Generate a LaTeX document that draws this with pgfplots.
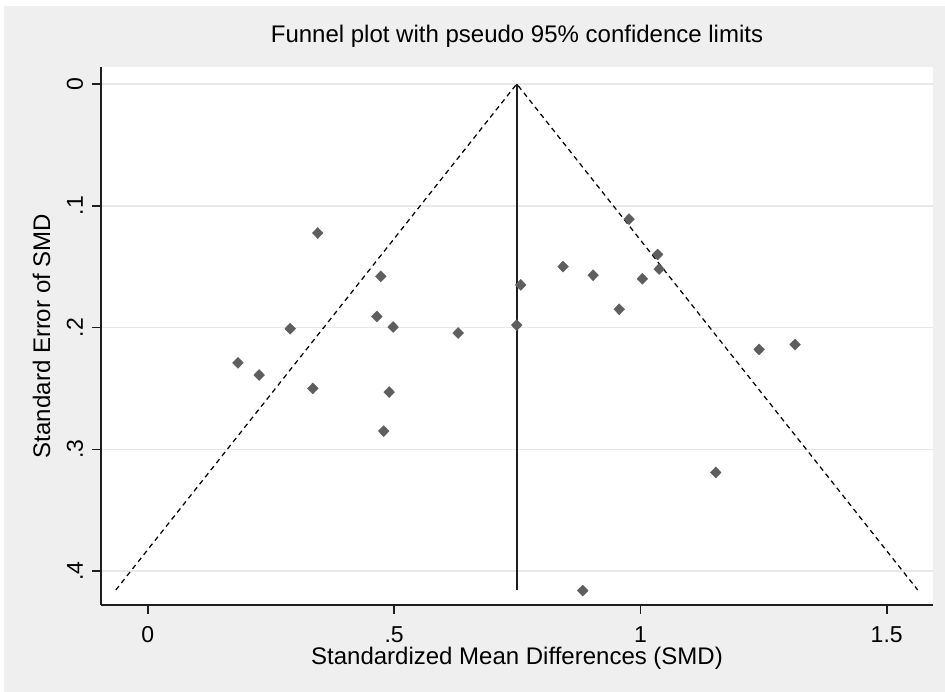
\documentclass[border=0pt]{standalone}
\usepackage{fontspec}
\setmainfont{Liberation Sans}
\usepackage{pgfplots}
\pgfplotsset{compat=1.18}
\definecolor{bg}{HTML}{EFEFEF}
\definecolor{mk}{HTML}{5E5E5E}
\definecolor{gridc}{HTML}{E8E8E8}
\definecolor{axc}{HTML}{1E1E1E}
\begin{document}
\begin{tikzpicture}[x=1pt,y=1pt]
\useasboundingbox (0,0) rectangle (945,692);
\fill[white] (0,0) rectangle (945,692);
\fill[bg] (4,0) rectangle (945,686);
\begin{axis}[
  at={(101pt,87pt)}, anchor=south west, scale only axis,
  width=832pt, height=538pt,
  xmin=-0.095, xmax=1.594, ymin=-0.4278, ymax=0.0139,
  axis x line*=bottom, axis y line*=left,
  axis line style={line width=1.6pt, axc},
  xtick={0,0.5,1,1.5}, xticklabels={0,.5,1,1.5},
  ytick={-0.4,-0.3,-0.2,-0.1,0}, yticklabels={.4,.3,.2,.1,0},
  yticklabel style={rotate=90, anchor=base, yshift=9pt},
  xticklabel style={anchor=base, yshift=-29pt, inner sep=0pt},
  tick align=outside, major tick length=9pt,
  tick style={line width=1.6pt, axc},
  ymajorgrids, grid style={gridc, line width=1.6pt},
  axis background/.style={fill=white},
  ticklabel style={font=\fontsize{23}{25}\selectfont},
  label style={font=\fontsize{24}{26}\selectfont},
  title={Funnel plot with pseudo 95\% confidence limits},
  title style={font=\fontsize{24}{26}\selectfont, at={(axis description cs:0.5,1)}, anchor=base, yshift=18pt},
  xlabel={Standardized Mean Differences (SMD)},
  xlabel style={at={(axis description cs:0.5,-0.1115)}, anchor=base, inner sep=0pt},
  ylabel={Standard Error of SMD},
  ylabel style={at={(axis description cs:-0.0613,0.5)}, anchor=base},
  clip=false,
]
\addplot[black, dash pattern=on 5pt off 4pt, line width=1.25pt] coordinates {(-0.065,-0.4155) (0.749,0) (1.563,-0.4155)};
\addplot[axc, line width=1.8pt] coordinates {(0.749,0) (0.749,-0.4155)};
\addplot[only marks, mark=diamond*, mark size=5.5pt, mark options={fill=mk, draw=mk, xscale=1.3}] table[x=smd, y expr=-\thisrow{se}] {
smd se
0.345 0.1224
0.473 0.158
0.465 0.191
0.498 0.1996
0.289 0.201
0.630 0.2045
0.183 0.229
0.226 0.239
0.335 0.250
0.490 0.253
0.479 0.285
0.977 0.111
1.035 0.140
1.038 0.152
0.843 0.150
0.904 0.157
1.004 0.160
0.757 0.165
0.957 0.185
0.749 0.198
1.241 0.218
1.314 0.214
1.153 0.319
0.883 0.416
};
\end{axis}
\end{tikzpicture}
\end{document}
